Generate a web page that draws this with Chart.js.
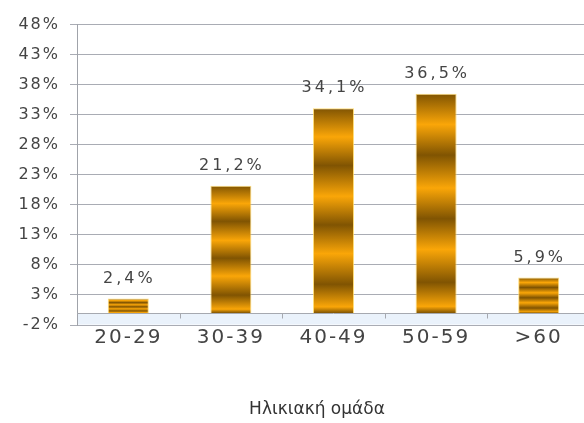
<!DOCTYPE html>
<html>
<head>
<meta charset="utf-8">
<script src="https://cdn.jsdelivr.net/npm/chart.js@4"></script>
<style>
  html, body { margin: 0; padding: 0; background: #fff; overflow: hidden; }
  #wrap { position: relative; width: 600px; height: 423px; }
</style>
</head>
<body>
<div id="wrap"><canvas id="myChart"></canvas></div>
<script>
(function () {
    'use strict';

    // ── Data ───────────────────────────────────────────────────────────────────
    const categories = ['20-29', '30-39', '40-49', '50-59', '>60'];
    const shares     = [2.4, 21.2, 34.1, 36.5, 5.9];
    const yTicks     = [-2, 3, 8, 13, 18, 23, 28, 33, 38, 43, 48];
    const xTitle     = 'Ηλικιακή ομάδα';

    const fmtPct = (v) => v.toFixed(1).replace('.', ',') + '%';

    // ── Striped gold fill, stretched over each bar's own height ───────────────
    const DARK  = 'rgb(128, 84, 2)';
    const LIGHT = 'rgb(250, 166, 8)';
    const STOPS = [0, 0.14, 0.28, 0.43, 0.57, 0.71, 0.86, 0.97, 1];

    const extrasPlugin = {
        id: 'extras',
        beforeDraw(chart) {
            chart.ctx.letterSpacing = '2px';
        },
        beforeDatasetsDraw(chart) {
            const { ctx, chartArea, scales } = chart;
            // light band between 0 and -2, zero line with category ticks
            const y0 = Math.round(scales.y.getPixelForValue(0)) + 0.5;
            const yb = Math.round(scales.y.getPixelForValue(-2));
            ctx.save();
            ctx.fillStyle = 'rgba(225, 237, 250, 0.7)';
            ctx.fillRect(chartArea.left + 1, y0 + 0.5, chartArea.right - chartArea.left, yb - y0 - 1);
            ctx.strokeStyle = '#a6a9b0';
            ctx.lineWidth = 1;
            ctx.beginPath();
            ctx.moveTo(chartArea.left, y0); ctx.lineTo(chartArea.right, y0);
            const n = categories.length;
            const w = (chartArea.right - chartArea.left) / n;
            for (let i = 1; i < n; i++) {
                const x = Math.round(chartArea.left + i * w) + 0.5;
                ctx.moveTo(x, y0); ctx.lineTo(x, y0 + 5);
            }
            ctx.stroke();
            ctx.restore();
        },
        // bars share one options object, so set the gradient and draw one by one
        beforeDatasetDraw(chart, args) {
            const { ctx, chartArea } = chart;
            args.meta.data.forEach((bar) => {
                const g = ctx.createLinearGradient(0, bar.y, 0, bar.base);
                STOPS.forEach((s, i) => g.addColorStop(s, i % 2 === 0 ? DARK : LIGHT));
                bar.options.backgroundColor = g;
                bar.draw(ctx, chartArea);
            });
            return false;
        },
        afterDatasetsDraw(chart) {
            const { ctx } = chart;
            const meta = chart.getDatasetMeta(0);
            ctx.save();
            ctx.letterSpacing = '3px';
            ctx.font = '16px "DejaVu Sans"';
            ctx.fillStyle = '#444';
            ctx.textAlign = 'center';
            ctx.textBaseline = 'alphabetic';
            meta.data.forEach((bar, i) => {
                ctx.fillText(fmtPct(shares[i]), bar.x + 1, bar.y - 16);
            });
            ctx.restore();
        },
        afterDraw(chart) {
            const { ctx } = chart;
            ctx.letterSpacing = '0px';
            ctx.save();
            ctx.font = '17px "DejaVu Sans"';
            ctx.fillStyle = '#333';
            ctx.textAlign = 'center';
            ctx.textBaseline = 'middle';
            ctx.fillText(xTitle, 317, 410);
            ctx.restore();
        }
    };

    // ── Chart ──────────────────────────────────────────────────────────────────
    new Chart(document.getElementById('myChart').getContext('2d'), {
        type: 'bar',
        data: {
            labels: categories,
            datasets: [{
                data: shares,
                backgroundColor: LIGHT,
                borderColor: 'rgba(255, 214, 90, 0.8)',
                borderWidth: 1,
                barPercentage: 0.8,
                categoryPercentage: 0.5
            }]
        },
        options: {
            responsive: true,
            maintainAspectRatio: false,
            animation: false,
            layout: { padding: { top: 24.7, right: 10, bottom: 72, left: 0 } },
            plugins: {
                legend: { display: false },
                tooltip: { enabled: false }
            },
            scales: {
                x: {
                    grid: { display: false, drawTicks: false },
                    border: { display: false },
                    ticks: {
                        padding: 1,
                        color: '#444',
                        font: { family: 'DejaVu Sans', size: 20 },
                        maxRotation: 0
                    }
                },
                y: {
                    min: -2,
                    max: 48,
                    afterBuildTicks: (s) => { s.ticks = yTicks.map(v => ({ value: v })); },
                    afterFit: (s) => { s.width = 77; },
                    grid: { color: '#a9acb4', tickLength: 7, tickColor: '#a9acb4' },
                    border: { display: true, color: '#a0a3aa' },
                    ticks: {
                        padding: 10,
                        color: '#444',
                        font: { family: 'DejaVu Sans', size: 16 },
                        callback: (v) => v + '%'
                    }
                }
            }
        },
        plugins: [extrasPlugin]
    });
}());
</script>
</body>
</html>
